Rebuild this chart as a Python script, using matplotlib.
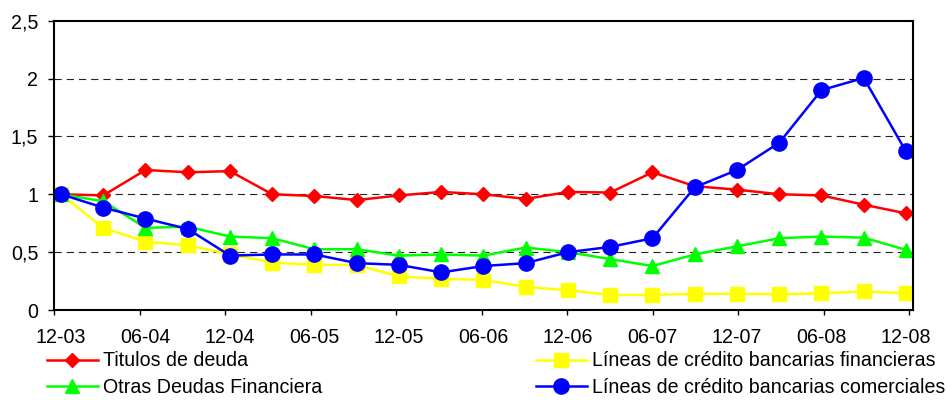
import matplotlib
matplotlib.use("Agg")
import matplotlib.pyplot as plt
import numpy as np

plt.rcParams['font.family'] = ['Liberation Sans', 'DejaVu Sans']

# trimestres 12-03 .. 12-08
quarters = ["12-03", "03-04", "06-04", "09-04", "12-04", "03-05", "06-05", "09-05",
            "12-05", "03-06", "06-06", "09-06", "12-06", "03-07", "06-07", "09-07",
            "12-07", "03-08", "06-08", "09-08", "12-08"]

titulos = [1.00, 0.99, 1.21, 1.19, 1.20, 1.00, 0.985, 0.95, 0.99, 1.02, 1.00,
           0.96, 1.02, 1.015, 1.19, 1.07, 1.04, 1.00, 0.99, 0.91, 0.835]
lineas_fin = [1.00, 0.71, 0.59, 0.56, 0.48, 0.41, 0.39, 0.39, 0.29, 0.27, 0.26,
              0.20, 0.17, 0.13, 0.13, 0.14, 0.14, 0.135, 0.145, 0.16, 0.145]
otras = [1.00, 0.94, 0.71, 0.72, 0.635, 0.62, 0.525, 0.525, 0.47, 0.48, 0.47,
         0.54, 0.50, 0.44, 0.38, 0.48, 0.55, 0.62, 0.635, 0.625, 0.52]
lineas_com = [1.00, 0.885, 0.79, 0.70, 0.47, 0.48, 0.48, 0.405, 0.39, 0.325, 0.38,
              0.405, 0.50, 0.545, 0.62, 1.06, 1.21, 1.445, 1.90, 2.005, 1.37]

labels = ["Titulos de deuda", "Líneas de crédito bancarias financieras",
          "Otras Deudas Financiera", "Líneas de crédito bancarias comerciales"]


def main():
    fig = plt.figure(figsize=(9.47, 4.0), dpi=100)
    ax = fig.add_axes([0.0570, 0.2250, 0.9071, 0.7233])

    x = np.arange(len(quarters))
    lw = 1.8
    fs = 14.1
    l1, = ax.plot(x, titulos, '-D', color='#FF0000', lw=lw, ms=7.5, label=labels[0])
    l2, = ax.plot(x, lineas_fin, '-s', color='#FFFF00', lw=lw, ms=10, label=labels[1])
    l3, = ax.plot(x, otras, '-^', color='#00FF00', lw=lw, ms=10, label=labels[2])
    l4, = ax.plot(x, lineas_com, '-o', color='#0000FF', lw=lw, ms=11, label=labels[3])

    ax.set_xlim(-0.166, 20.166)
    ax.set_ylim(0, 2.5)

    ax.set_yticks([0, 0.5, 1, 1.5, 2, 2.5])
    ax.set_yticklabels(["0", "0,5", "1", "1,5", "2", "2,5"])
    ax.tick_params(axis='y', length=4.3, width=1, pad=7, labelsize=fs)

    ax.set_xticks(x[::2])
    ax.set_xticklabels(quarters[::2])
    ax.tick_params(axis='x', which='major', length=0, pad=13, labelsize=fs)
    ax.set_xticks(np.arange(0, 21, 2) * 1.012 - 0.16, minor=True)
    ax.tick_params(axis='x', which='minor', length=3.6, width=1)

    for y in [0.5, 1, 1.5, 2]:
        ax.axhline(y, color='#222222', lw=0.8, linestyle=(0, (6.5, 4.5)), zorder=0.5)

    for s in ax.spines.values():
        s.set_linewidth(1.5)
        s.set_color('black')

    fig.legend(handles=[l1, l3, l2, l4], ncol=2, loc='center left',
               bbox_to_anchor=(0.0496, 0.064), frameon=False, fontsize=fs,
               borderpad=0, borderaxespad=0, handlelength=2.6, handletextpad=0.26,
               columnspacing=10.9, labelspacing=0.4)

    fig.savefig("out.png", dpi=100)


if __name__ == '__main__':
    main()
